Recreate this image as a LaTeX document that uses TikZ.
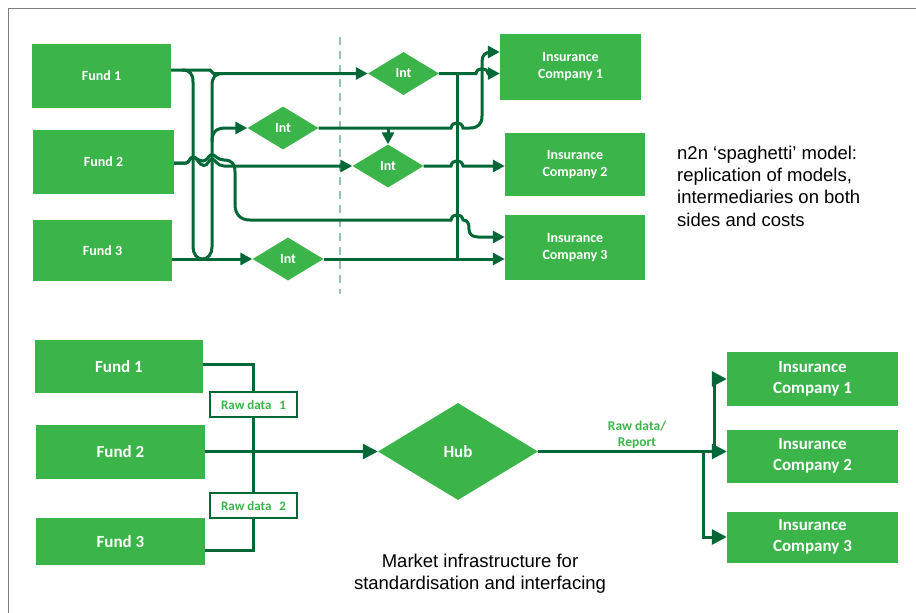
\documentclass[tikz,border=0pt]{standalone}
\usepackage{fontspec}
\setmainfont{Liberation Sans}
\newfontfamily\labelfont{Carlito}
\usetikzlibrary{arrows.meta,shapes.geometric}
\definecolor{boxgreen}{RGB}{59,181,74}
\definecolor{linkgreen}{RGB}{0,104,55}
\definecolor{guide}{RGB}{150,195,172}
\definecolor{framegray}{RGB}{125,125,125}
\begin{document}
\begin{tikzpicture}[x=1pt,y=-1pt,
  box/.style={fill=boxgreen, text=white, inner sep=0pt, align=center,
    font=\labelfont\bfseries\fontsize{14}{17}\selectfont},
  bigbox/.style={box, font=\labelfont\bfseries\fontsize{17}{20.5}\selectfont},
  intnode/.style={diamond, fill=boxgreen, text=white, inner sep=0pt,
    minimum width=71pt, minimum height=43pt,
    font=\labelfont\bfseries\fontsize{14}{16}\selectfont},
  rawbox/.style={draw=linkgreen, line width=1.6pt, fill=white, text=boxgreen,
    inner sep=0pt, minimum width=87pt, minimum height=25pt,
    font=\labelfont\bfseries\fontsize{13}{15}\selectfont},
  link/.style={draw=linkgreen, line width=3pt},
  arr/.style={-{Triangle[length=12pt,width=12pt]}},
  arrB/.style={-{Triangle[length=15pt,width=15pt]}},
  note/.style={inner sep=0pt, font=\fontsize{18.5}{22.3}\selectfont}
]
\useasboundingbox (0,0) rectangle (916,613);
% frame
\draw[framegray, line width=1.5pt] (8.5,613) -- (8.5,8.5) -- (916,8.5);

% ---------- n2n model ----------
\draw[guide, line width=1.5pt, dash pattern=on 8pt off 6pt] (340,37) -- (340,294);

\node[box, minimum width=139pt, minimum height=64pt] (f1t) at (101.5,76) {Fund 1};
\node[box, minimum width=141pt, minimum height=64pt] (f2t) at (103.5,162) {Fund 2};
\node[box, minimum width=139pt, minimum height=61pt] (f3t) at (102.5,250.5) {Fund 3};
\node[box, minimum width=141pt, minimum height=66pt] (i1t) at (570.5,67) {Insurance\\Company 1};
\node[box, minimum width=140pt, minimum height=63pt] (i2t) at (575,164.5) {Insurance\\Company 2};
\node[box, minimum width=140pt, minimum height=65pt] (i3t) at (575,247.5) {Insurance\\Company 3};
\node[intnode] (d1) at (403.5,73.5) {Int};
\node[intnode] (d2) at (283,128) {Int};
\node[intnode] (d3) at (388,166) {Int};
\node[intnode] (d4) at (288,259) {Int};

% Fund 1 to first Int
\draw[link,arr] ([yshift=6pt]f1t.east) -- (210,70) -- (213.5,73.5) -- (d1.west);
% loop from the Fund 1 line down to the Fund 3 line
\draw[link] (182,70) .. controls (190,70) and (193,74) .. (193,82) -- (193,247)
  .. controls (193,254) and (197,259) .. (202.5,259)
  .. controls (208,259) and (212,254) .. (212,247) -- (212,86)
  .. controls (212,77) and (215,73.5) .. (223,73.5);
% branch to the second Int
\draw[link,arr] (212,142) .. controls (212,132) and (216,128) .. (226,128) -- (d2.west);
% second Int to Insurance Company 1
\draw[link,arr] (d2.east) -- (451,128) .. controls (452,121) and (462,121) .. (463,128)
  -- (470,128) .. controls (478,128) and (482,124) .. (482,116) -- (482,62)
  .. controls (482,55) and (485,52) .. (492,52) -- ([yshift=15pt]i1t.west);
% second Int line down to the third Int
\draw[link,arr] (d3.north |- d2.east) -- (d3.north);
% first Int to Insurance Company 1
\draw[link,arr] (d1.east) -- (476,73.5) .. controls (477,67) and (487,67) .. (488,73.5)
  -- (i1t.west |- d1.east);
% trunk between the first Int output and the Fund 3 line
\draw[link] (457,73.5) -- (457,259);
% third Int to Insurance Company 2
\draw[link,arr] (d3.east) -- (451,166) .. controls (452,159) and (462,159) .. (463,166)
  -- (i2t.west |- d3.east);
% Fund 2 to third Int
\draw[link,arr] ([yshift=-1pt]f2t.east) -- (186,163)
  .. controls (189,163) and (190,157) .. (193,157)
  .. controls (197,157) and (199,165.5) .. (204,165.5)
  .. controls (208,165.5) and (209,159) .. (212,159)
  .. controls (215,159) and (217,166) .. (224,166) -- (d3.west);
% Fund 2 to Insurance Company 3
\draw[link,arr] ([yshift=-1pt]f2t.east) -- (186,163)
  .. controls (189,163) and (190,157) .. (193,157)
  .. controls (196,157) and (198,161) .. (203,161)
  .. controls (207,161) and (209,154.5) .. (212,154.5)
  .. controls (215,154.5) and (217,160) .. (224,160)
  .. controls (232,160) and (235,164) .. (235,172) -- (235,204)
  .. controls (235,214) and (240,220) .. (250,220) -- (451,220)
  .. controls (452,213) and (462,213) .. (463,220)
  .. controls (468,220) and (469,224) .. (469,229)
  .. controls (469,234) and (472,237) .. (478,237) -- ([yshift=10.5pt]i3t.west);
% Fund 3 through the fourth Int to Insurance Company 3
\draw[link,arr] (f3t.east |- d4.west) -- (d4.west);
\draw[link,arr] (d4.east) -- (i3t.west |- d4.east);

\node[note, anchor=north west, align=left] (n2n) at (677,145.5)
  {n2n ‘spaghetti’ model:\\replication of models,\\intermediaries on both\\sides and costs};

% ---------- hub model ----------
\node[bigbox, minimum width=168pt, minimum height=53pt] (f1b) at (119,366.5) {Fund 1};
\node[bigbox, minimum width=169pt, minimum height=54pt] (f2b) at (120.5,452) {Fund 2};
\node[bigbox, minimum width=169pt, minimum height=47pt] (f3b) at (120.5,541.5) {Fund 3};
\node[diamond, fill=boxgreen, text=white, inner sep=0pt, minimum width=160pt,
  minimum height=97pt, font=\labelfont\bfseries\fontsize{17}{20}\selectfont]
  (hub) at (458,451.5) {Hub};
\node[bigbox, minimum width=171pt, minimum height=54pt] (i1b) at (812.5,379) {Insurance\\Company 1};
\node[bigbox, minimum width=171pt, minimum height=53pt] (i2b) at (812.5,456) {Insurance\\Company 2};
\node[bigbox, minimum width=171pt, minimum height=51pt] (i3b) at (812.5,537) {Insurance\\Company 3};
\node[rawbox] (rd1) at (253.5,404.5) {Raw data\hspace{0.6em}1};
\node[rawbox] (rd2) at (253.5,505.5) {Raw data\hspace{0.6em}2};

\draw[link] ([yshift=2pt]f1b.east) -| (rd1.north);
\draw[link] (rd1.south) -- (rd2.north);
\draw[link] (rd2.south) |- ([yshift=-8.5pt]f3b.east);
\draw[link,arrB] (f2b.east |- hub.west) -- (hub.west);
\draw[link,arrB] (hub.east) -- (i2b.west |- hub.east);
\coordinate (s1) at (714,451.5);
\coordinate (s2) at (703,451.5);
\draw[link,arrB] (s1) |- (i1b.west);
\draw[link,arrB] (s2) |- (i3b.west);
\node[text=boxgreen, align=center, inner sep=0pt,
  font=\labelfont\bfseries\fontsize{13.5}{16}\selectfont] (rawrep) at (637,435)
  {Raw data/\\Report};

\node[note, align=center] (mkt) at (480,573.5)
  {Market infrastructure for\\standardisation and interfacing};
\end{tikzpicture}
\end{document}
